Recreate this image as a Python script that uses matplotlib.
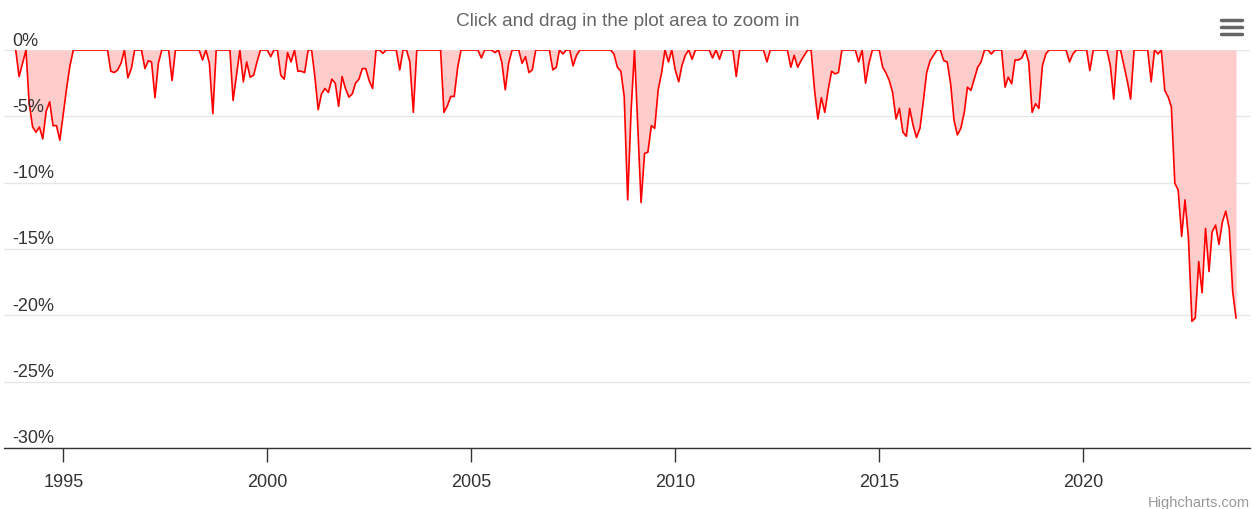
import matplotlib
matplotlib.use("Agg")
import matplotlib.pyplot as plt
import matplotlib.dates as mdates
import matplotlib.transforms as mtransforms
from matplotlib.lines import Line2D
import pandas as pd

plt.rcParams["font.family"] = ["Liberation Sans", "DejaVu Sans"]

# monthly drawdown (%) starting Nov 1993
start_month = "1993-11-01"
drawdown = [
    0, -2.0,                                                                  # 1993
    -1.0, 0, -4.0, -5.8, -6.2, -5.8, -6.7, -4.6, -3.9, -5.7, -5.7, -6.8,      # 1994
    -4.8, -2.8, -1.2, 0, 0, 0, 0, 0, 0, 0, 0, 0,                              # 1995
    0, 0, -1.6, -1.7, -1.5, -1.0, 0, -2.1, -1.4, 0, 0, 0,                     # 1996
    -1.4, -0.8, -0.9, -3.6, -1.0, 0, 0, 0, -2.3, 0, 0, 0,                     # 1997
    0, 0, 0, 0, 0, -0.75, 0, -1.0, -4.8, 0, 0, 0,                             # 1998
    0, 0, -3.8, -1.9, 0, -2.4, -0.9, -2.05, -1.9, -0.9, 0, 0,                 # 1999
    0, -0.5, 0, 0, -1.9, -2.2, -0.2, -0.9, 0, -1.6, -1.6, -1.7,               # 2000
    0, 0, -1.9, -4.5, -3.3, -2.9, -3.2, -2.2, -2.5, -4.25, -2.0, -2.9,        # 2001
    -3.55, -3.3, -2.5, -2.2, -1.4, -1.4, -2.3, -2.9, 0, 0, -0.25, 0,          # 2002
    0, 0, 0, -1.5, 0, 0, -0.9, -4.7, 0, 0, 0, 0,                              # 2003
    0, 0, 0, 0, -4.7, -4.2, -3.5, -3.5, -1.3, 0, 0, 0,                        # 2004
    0, 0, 0, -0.6, 0, 0, 0, -0.2, 0, -0.9, -3.0, -1.0,                        # 2005
    0, 0, 0, -1.0, -0.5, -1.7, -1.5, 0, 0, 0, 0, 0,                           # 2006
    -1.5, -1.3, 0, -0.3, 0, 0, -1.2, -0.4, 0, 0, 0, 0,                        # 2007
    0, 0, 0, 0, 0, 0, -0.3, -1.3, -1.6, -3.5, -11.3, -4.7,                    # 2008
    0, -6.0, -11.5, -7.8, -7.7, -5.7, -5.9, -3.0, -1.7, 0, -0.9, 0,           # 2009
    -1.5, -2.4, -1.2, -0.4, 0, -0.7, 0, 0, 0, 0, 0, -0.6,                     # 2010
    0, -0.7, 0, 0, 0, 0, -2.0, 0, 0, 0, 0, 0,                                 # 2011
    0, 0, 0, -0.9, 0, 0, 0, 0, 0, 0, -1.3, -0.4,                              # 2012
    -1.3, -0.8, -0.4, 0, 0, -3.0, -5.2, -3.6, -4.7, -3.0, -1.6, -1.8,         # 2013
    -1.7, 0, 0, 0, 0, 0, -0.9, 0, -2.5, -1.0, 0, 0,                           # 2014
    0, -1.3, -1.7, -2.3, -3.2, -5.2, -4.4, -6.2, -6.5, -4.4, -5.7, -6.6,      # 2015
    -5.9, -3.8, -1.7, -0.8, -0.4, 0, 0, -0.8, -0.9, -2.5, -5.3, -6.4,         # 2016
    -5.9, -4.7, -2.8, -3.05, -2.2, -1.3, -0.9, 0, 0, -0.3, 0, 0,              # 2017
    0, -2.8, -2.05, -2.55, -0.75, -0.75, -0.6, 0, -0.9, -4.7, -4.05, -4.4,    # 2018
    -1.2, -0.3, 0, 0, 0, 0, 0, 0, -0.9, -0.3, 0, 0,                           # 2019
    0, 0, -1.55, 0, 0, 0, 0, 0, -1.2, -3.7, 0, 0,                             # 2020
    -1.2, -2.4, -3.7, 0, 0, 0, 0, 0, -2.4, 0, -0.3, 0,                        # 2021
    -3.05, -3.55, -4.3, -10.05, -10.55, -14.05, -11.3, -14.2, -20.45, -20.2, -15.95, -18.3,  # 2022
    -13.45, -16.7, -13.7, -13.2, -14.65, -12.95, -12.15, -13.45, -18.2, -20.2,             # 2023
]
dates = pd.date_range(start_month, periods=len(drawdown), freq="MS")

y_ticks = [0, -5, -10, -15, -20, -25, -30]
x_years = [1995, 2000, 2005, 2010, 2015, 2020]

fig = plt.figure(figsize=(12.55, 5.1), dpi=100)
ax = fig.add_axes([4 / 1255, 61 / 510, 1246 / 1255, 398 / 510])

ax.fill_between(dates, drawdown, 0, color="#ffcccc", lw=0)
ax.plot(dates, drawdown, color="#ff0000", lw=1.2)

ax.set_xlim(pd.Timestamp("1993-07-19"), pd.Timestamp("2024-02-03"))
ax.set_ylim(-30, 0)

ax.set_yticks(y_ticks)
ax.yaxis.grid(True, color="#e6e6e6", lw=1)
ax.tick_params(axis="y", length=0, labelleft=False)
label_tr = mtransforms.offset_copy(ax.get_yaxis_transform(), fig=fig, x=0, y=10, units="dots")
for v in y_ticks:
    ax.text(0.0066, v, f"{v}%", transform=label_tr, ha="left", va="center",
            fontsize=13, color="#333333")

ax.set_xticks([pd.Timestamp(f"{y}-01-01") for y in x_years])
ax.xaxis.set_major_formatter(mdates.DateFormatter("%Y"))
ax.tick_params(axis="x", length=10, width=1, color="#333333", labelsize=13,
               labelcolor="#333333", pad=8)

for side in ["top", "right", "left"]:
    ax.spines[side].set_visible(False)
ax.spines["bottom"].set_color("#333333")
ax.spines["bottom"].set_linewidth(1)
ax.set_axisbelow(True)

fig.text(628 / 1255, 1 - 21 / 510, "Click and drag in the plot area to zoom in",
         ha="center", va="center", fontsize=13.7, color="#666666")
fig.text(1250 / 1255, 1 - 503 / 510, "Highcharts.com", ha="right", va="center",
         fontsize=10.5, color="#999999")

# export menu icon
for yy in [21, 28, 35]:
    fig.add_artist(Line2D([1221 / 1255, 1242 / 1255], [1 - yy / 510, 1 - yy / 510],
                          color="#666666", lw=2.5, solid_capstyle="round"))

fig.savefig("out.png", dpi=100)
